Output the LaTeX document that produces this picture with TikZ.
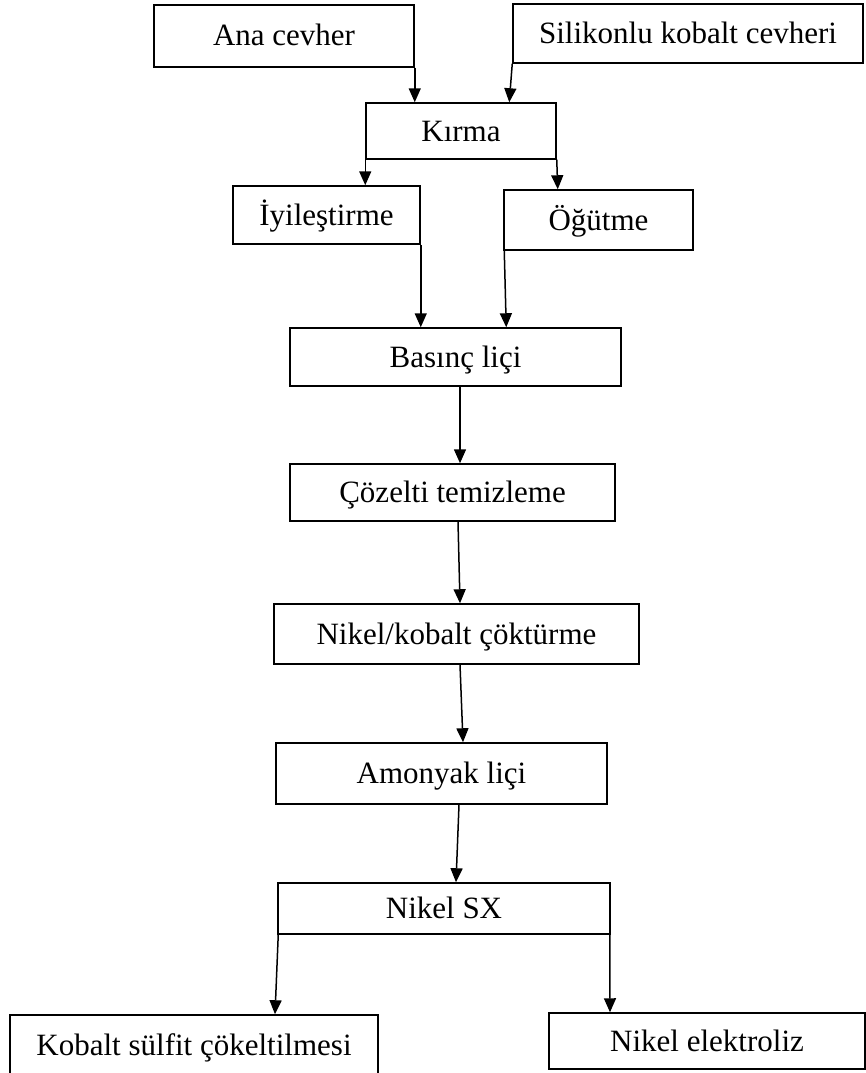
\documentclass[tikz,border=0pt]{standalone}
\usepackage{fontspec}
\setmainfont{Liberation Serif}
\usetikzlibrary{arrows.meta}

\tikzset{
  stage/.style={draw=black, line width=1.5pt, rectangle, inner sep=0pt,
    text height=20pt, text depth=0pt, align=center,
    font=\fontsize{31}{36}\selectfont},
  flow/.style={draw=black, line width=1.5pt,
    -{Triangle[length=14pt,width=12pt]}},
}

\begin{document}
\begin{tikzpicture}[x=1pt, y=-1pt]
  % page frame
  \useasboundingbox (0,0) rectangle (866,1073);
  \fill[white] (0,0) rectangle (866,1073);
  \clip (0,0) rectangle (866,1073);

  % process stages
  \node[stage, minimum width=260pt, minimum height=62pt] (ana)  at (284,36)     {Ana cevher};
  \node[stage, minimum width=350pt, minimum height=59pt] (sil)  at (688,33.5)   {Silikonlu kobalt cevheri};
  \node[stage, minimum width=190pt, minimum height=56pt] (kir)  at (461,131)    {Kırma};
  \node[stage, minimum width=187pt, minimum height=58pt] (iyi)  at (326.5,215)  {İyileştirme};
  \node[stage, minimum width=189pt, minimum height=60pt] (ogu)  at (598.5,220)  {Öğütme};
  \node[stage, minimum width=331pt, minimum height=58pt] (bas)  at (455.5,357)  {Basınç liçi};
  \node[stage, minimum width=325pt, minimum height=57pt] (coz)  at (452.5,492.5){Çözelti temizleme};
  \node[stage, minimum width=365pt, minimum height=60pt] (nik)  at (456.5,634)  {Nikel/kobalt çöktürme};
  \node[stage, minimum width=331pt, minimum height=61pt] (amo)  at (441.5,773.5){Amonyak liçi};
  \node[stage, minimum width=332pt, minimum height=51pt] (sx)   at (444,908.5)  {Nikel SX};
  \node[stage, minimum width=368pt, minimum height=60pt] (kob)  at (194,1045)   {Kobalt sülfit çökeltilmesi};
  \node[stage, minimum width=316pt, minimum height=56pt] (ele)  at (707,1041)   {Nikel elektroliz};

  % connectors
  \draw[flow] (ana.south east) -- (ana.south east |- kir.north);
  \draw[flow] (sil.south west) -- ([xshift=-3pt]sil.south west |- kir.north);
  \draw[flow] (kir.south west) -- (kir.south west |- iyi.north);
  \draw[flow] (kir.south east) -- ([xshift=1pt]kir.south east |- ogu.north);
  \draw[flow] (iyi.south east) -- (iyi.south east |- bas.north);
  \draw[flow] ([xshift=1pt]ogu.south west) -- ([xshift=3pt]ogu.south west |- bas.north);
  \draw[flow] ([xshift=4.5pt]bas.south) -- ([xshift=4.5pt]bas.south |- coz.north);
  \draw[flow] ([xshift=5.5pt]coz.south) -- ([xshift=3.5pt]nik.north);
  \draw[flow] ([xshift=3.5pt]nik.south) -- ([xshift=21.5pt]amo.north);
  \draw[flow] ([xshift=17.5pt]amo.south) -- ([xshift=12pt]sx.north);
  \draw[flow] ([xshift=1pt]sx.south west) -- ([xshift=81pt]kob.north);
  \draw[flow] ([xshift=-1pt]sx.south east) -- ([xshift=-97pt]ele.north);
\end{tikzpicture}
\end{document}
